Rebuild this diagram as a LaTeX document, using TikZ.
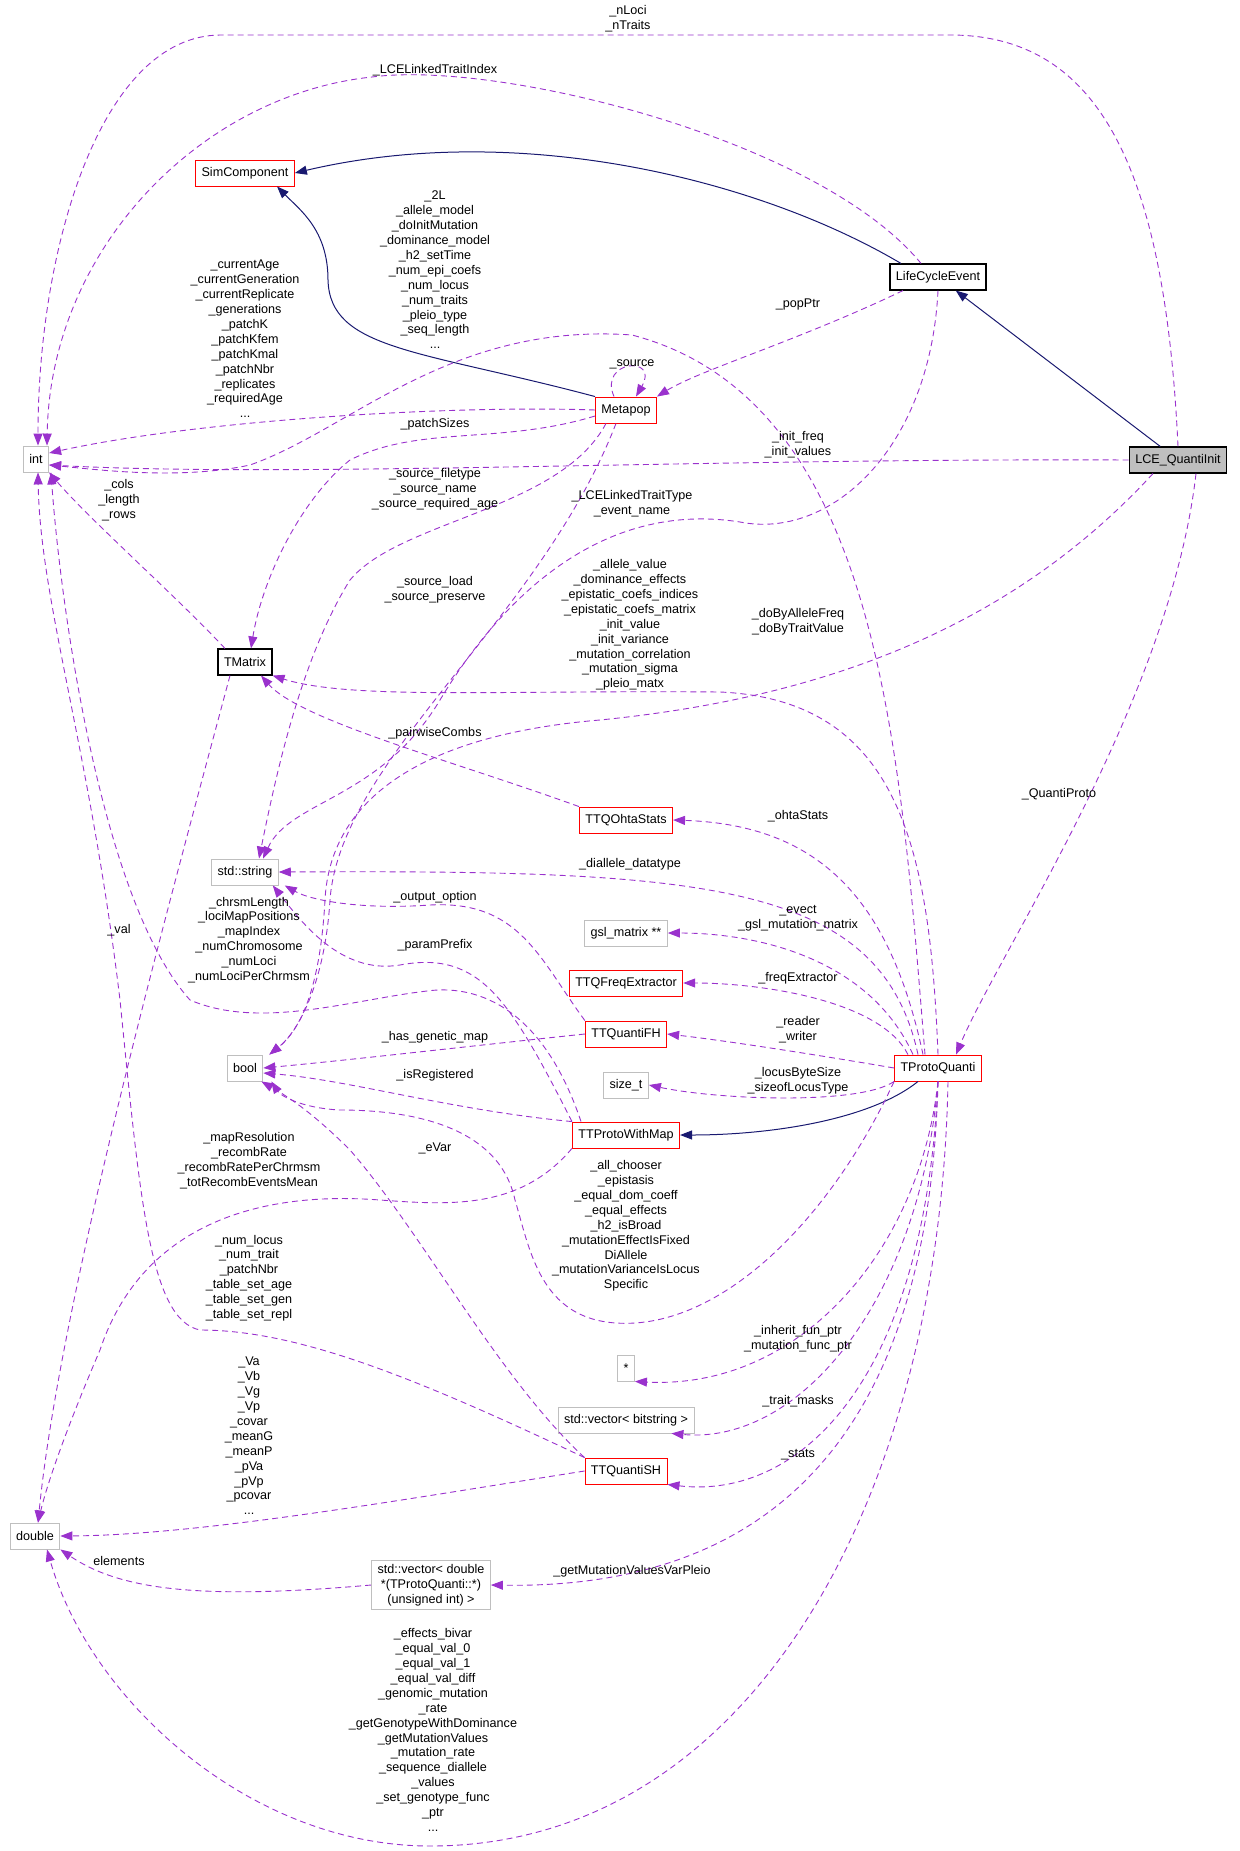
\documentclass[tikz,border=0pt]{standalone}
\usepackage{fontspec}
\setmainfont{Liberation Sans}
\usetikzlibrary{arrows.meta}
\definecolor{relcol}{HTML}{9A32CD}
\definecolor{inhcol}{HTML}{191970}
\definecolor{boxgray}{HTML}{BFBFBF}
\begin{document}
\begin{tikzpicture}[x=1pt,y=-1pt,
  every node/.style={font=\fontsize{12.6}{14.9}\selectfont},
  cls/.style={draw=red,line width=0.9pt,minimum height=26pt,inner xsep=6pt,fill=white},
  cb/.style={draw=black,line width=1.1pt,minimum height=26pt,inner xsep=6pt,fill=white},
  prim/.style={draw=boxgray,line width=0.9pt,minimum height=26pt,inner xsep=6pt,fill=white},
  lbl/.style={align=center,inner sep=0pt},
  rel/.style={draw=relcol,dashed,dash pattern=on 6pt off 4pt,line width=0.9pt,-{Triangle[length=12pt,width=9pt]}},
  inherit/.style={draw=inhcol,line width=1pt,-{Triangle[length=12pt,width=9pt]}}]
\useasboundingbox (0,0) rectangle (1239,1851);

% classes
\node[cls] (simcomp) at (245,173) {SimComponent};
\node[cb] (lifecycle) at (938,277) {LifeCycleEvent};
\node[cls] (metapop) at (626,410) {Metapop};
\node[prim] (int) at (36,459) {int};
\node[cb,fill=boxgray] (lcequanti) at (1178,460) {LCE\_QuantiInit};
\node[cb] (tmatrix) at (245,662) {TMatrix};
\node[cls] (ohta) at (626,820) {TTQOhtaStats};
\node[prim] (string) at (245,872) {std::string};
\node[prim] (gsl) at (626,933) {gsl\_matrix **};
\node[cls] (freqext) at (626,983) {TTQFreqExtractor};
\node[cls] (fh) at (626,1034) {TTQuantiFH};
\node[prim] (bool) at (245,1068) {bool};
\node[cls] (tproto) at (938,1068) {TProtoQuanti};
\node[prim] (sizet) at (626,1085) {size\_t};
\node[cls] (pwm) at (626,1135) {TTProtoWithMap};
\node[prim] (star) at (626,1368) {*};
\node[prim] (vecbits) at (626,1420) {std::vector\textless{} bitstring \textgreater{}};
\node[cls] (sh) at (626,1471) {TTQuantiSH};
\node[prim] (double) at (35,1536) {double};
\node[prim,align=center,inner ysep=4pt] (vecdbl) at (431,1585) {std::vector\textless{} double\\*(TProtoQuanti::*)\\(unsigned int) \textgreater{}};

% inheritance
\draw[inherit] (lcequanti) -- (lifecycle);
\draw[inherit] ([xshift=-37pt]lifecycle.north) .. controls (760,180) and (520,120) .. (simcomp.east);
\draw[inherit] (metapop.north west) .. controls (420,350) and (330,350) .. (328,280) .. controls (328,230) and (300,210) .. ([xshift=32pt]simcomp.south);
\draw[inherit] ([xshift=-20pt]tproto.south) .. controls (870,1120) and (770,1135) .. (pwm.east);

% members
\draw[rel] (lcequanti.north) .. controls (1165,170) and (1100,35) .. (950,35) -- (221,35) .. controls (100,35) and (38,250) .. ([xshift=2pt]int.north);
\draw[rel] ([xshift=-17pt]lifecycle.north) .. controls (820,140) and (500,60) .. (372,77) .. controls (200,95) and (50,250) .. ([xshift=11pt]int.north);
\draw[rel] ([xshift=-35pt]lifecycle.south) .. controls (800,340) and (700,370) .. (metapop.north east);
\draw[rel] ([xshift=-12pt]metapop.north) .. controls (598,360) and (660,355) .. ([xshift=10pt]metapop.north);
\draw[rel] (metapop.west) .. controls (450,405) and (200,420) .. ([yshift=6pt]int.east);
\draw[rel] ([yshift=-6pt]metapop.west) .. controls (500,445) and (420,425) .. (350,460) .. controls (300,500) and (262,580) .. ([xshift=6pt]tmatrix.north);
\draw[rel] (lcequanti.west) .. controls (700,458) and (300,478) .. ([yshift=-6pt]int.east);
\draw[rel] ([xshift=-13pt]tproto.north) .. controls (900,750) and (880,400) .. (632,335) .. controls (450,322) and (350,430) .. (250,465) .. controls (180,480) and (100,470) .. ([yshift=-6pt]int.east);
\draw[rel] ([xshift=-20pt]metapop.south) .. controls (560,510) and (400,520) .. (350,580) .. controls (300,660) and (275,780) .. ([xshift=14pt]string.north);
\draw[rel] (lifecycle.south) .. controls (930,450) and (830,540) .. (740,522) .. controls (600,500) and (500,600) .. (440,700) .. controls (380,800) and (290,800) .. ([xshift=18pt]string.north);
\draw[rel] ([xshift=-10pt]metapop.south) .. controls (540,620) and (340,760) .. (330,900) .. controls (325,980) and (300,1030) .. ([xshift=6pt]bool.north east);
\draw[rel] ([xshift=-25pt]lcequanti.south) .. controls (1000,640) and (800,700) .. (600,720) .. controls (420,735) and (330,800) .. (325,900) .. controls (320,990) and (300,1030) .. ([xshift=6pt]bool.north east);
\draw[rel] (tproto.north) .. controls (930,850) and (900,700) .. (720,692) .. controls (500,690) and (350,700) .. (tmatrix.south east);
\draw[rel] (ohta.north west) .. controls (450,760) and (300,720) .. ([xshift=16pt]tmatrix.south);
\draw[rel] ([xshift=18pt]lcequanti.south) .. controls (1170,700) and (1000,950) .. ([xshift=18pt]tproto.north);
\draw[rel] ([xshift=-15pt]tproto.north) .. controls (890,900) and (820,825) .. (ohta.east);
\draw[rel] ([xshift=-20pt]tproto.north) .. controls (880,880) and (700,870) .. (string.east);
\draw[rel] ([xshift=-25pt]tproto.north) .. controls (870,960) and (760,933) .. (gsl.east);
\draw[rel] ([xshift=-30pt]tproto.north) .. controls (880,1000) and (760,983) .. (freqext.east);
\draw[rel] (tproto.west) .. controls (800,1052) and (720,1040) .. (fh.east);
\draw[rel] (tproto.south west) .. controls (860,1105) and (720,1100) .. (sizet.east);
\draw[rel] (fh.north west) .. controls (540,960) and (520,900) .. (430,905) .. controls (360,910) and (310,900) .. ([xshift=6pt]string.south east);
\draw[rel] (pwm.north west) .. controls (510,1000) and (480,950) .. (400,965) .. controls (340,975) and (300,920) .. ([xshift=-6pt]string.south east);
\draw[rel] ([xshift=-45pt]pwm.north) .. controls (540,1000) and (470,985) .. (427,991) .. controls (350,1000) and (260,1030) .. (190,1000) .. controls (100,900) and (60,600) .. ([xshift=15pt]int.south);
\draw[rel] (fh.west) .. controls (480,1045) and (350,1060) .. (bool.east);
\draw[rel] (pwm.north west) .. controls (450,1110) and (350,1080) .. ([yshift=-5pt]bool.east);
\draw[rel] (tproto.south west) .. controls (830,1220) and (720,1330) .. (616,1323) .. controls (540,1318) and (530,1250) .. (515,1200) .. controls (500,1130) and (420,1110) .. (340,1110) .. controls (300,1108) and (280,1095) .. ([xshift=8pt]bool.south east);
\draw[rel] (sh.north west) .. controls (500,1380) and (420,1230) .. (350,1150) .. controls (310,1110) and (285,1095) .. ([xshift=-2pt]bool.south east);
\draw[rel] (pwm.south west) .. controls (520,1210) and (450,1205) .. (380,1200) .. controls (250,1190) and (140,1230) .. (100,1350) .. controls (70,1420) and (48,1480) .. ([xshift=3pt]double.north);
\draw[rel] (sh.north west) .. controls (420,1380) and (300,1330) .. (200,1330) .. controls (150,1320) and (140,1200) .. (120,1000) .. controls (90,750) and (40,600) .. ([xshift=2pt]int.south);
\draw[rel] ([xshift=-20pt]tmatrix.north) .. controls (180,600) and (90,520) .. (int.south east);
\draw[rel] ([xshift=-15pt]tmatrix.south) .. controls (170,900) and (60,1300) .. ([xshift=3pt]double.north);
\draw[rel] (sh.west) .. controls (400,1500) and (200,1535) .. (double.east);
\draw[rel] (vecdbl.west) .. controls (200,1600) and (120,1590) .. (double.south east);
\draw[rel] (tproto.south) .. controls (920,1250) and (800,1390) .. (star.south east);
\draw[rel] (tproto.south) .. controls (920,1300) and (800,1445) .. ([xshift=-23pt]vecbits.south east);
\draw[rel] (tproto.south) .. controls (925,1380) and (800,1500) .. (sh.south east);
\draw[rel] (tproto.south) .. controls (930,1400) and (800,1590) .. (vecdbl.east);
\draw[rel] ([xshift=10pt]tproto.south) .. controls (940,1500) and (750,1846) .. (430,1846) .. controls (250,1846) and (90,1700) .. ([xshift=12pt]double.south);

% labels
\node[lbl] (lnloci) at (628,19) {\_nLoci\\\_nTraits};
\node[lbl] (llinkidx) at (435,70) {\_LCELinkedTraitIndex};
\node[lbl] (l2l) at (435,270) {\_2L\\\_allele\_model\\\_doInitMutation\\\_dominance\_model\\\_h2\_setTime\\\_num\_epi\_coefs\\\_num\_locus\\\_num\_traits\\\_pleio\_type\\\_seq\_length\\...};
\node[lbl] (lcurage) at (245,339) {\_currentAge\\\_currentGeneration\\\_currentReplicate\\\_generations\\\_patchK\\\_patchKfem\\\_patchKmal\\\_patchNbr\\\_replicates\\\_requiredAge\\...};
\node[lbl] (lpopptr) at (798,304) {\_popPtr};
\node[lbl] (lsource) at (632,364) {\_source};
\node[lbl] (lpatchsizes) at (435,424) {\_patchSizes};
\node[lbl] (linitfreq) at (798,445) {\_init\_freq\\\_init\_values};
\node[lbl] (lsrcfile) at (435,489) {\_source\_filetype\\\_source\_name\\\_source\_required\_age};
\node[lbl] (lcols) at (119,500) {\_cols\\\_length\\\_rows};
\node[lbl] (llinktype) at (632,504) {\_LCELinkedTraitType\\\_event\_name};
\node[lbl] (lsrcload) at (435,590) {\_source\_load\\\_source\_preserve};
\node[lbl] (lallele) at (630,625) {\_allele\_value\\\_dominance\_effects\\\_epistatic\_coefs\_indices\\\_epistatic\_coefs\_matrix\\\_init\_value\\\_init\_variance\\\_mutation\_correlation\\\_mutation\_sigma\\\_pleio\_matx};
\node[lbl] (ldoby) at (798,622) {\_doByAlleleFreq\\\_doByTraitValue};
\node[lbl] (lpairwise) at (435,733) {\_pairwiseCombs};
\node[lbl] (lquantiproto) at (1059,794) {\_QuantiProto};
\node[lbl] (lohta) at (798,816) {\_ohtaStats};
\node[lbl] (ldiallele) at (630,864) {\_diallele\_datatype};
\node[lbl] (lval) at (119,930) {\_val};
\node[lbl] (loutput) at (435,897) {\_output\_option};
\node[lbl] (levect) at (798,918) {\_evect\\\_gsl\_mutation\_matrix};
\node[lbl] (lchrsm) at (249,940) {\_chrsmLength\\\_lociMapPositions\\\_mapIndex\\\_numChromosome\\\_numLoci\\\_numLociPerChrmsm};
\node[lbl] (lparam) at (435,945) {\_paramPrefix};
\node[lbl] (lfreqext) at (798,978) {\_freqExtractor};
\node[lbl] (lreader) at (798,1030) {\_reader\\\_writer};
\node[lbl] (lgenmap) at (435,1037) {\_has\_genetic\_map};
\node[lbl] (lisreg) at (435,1075) {\_isRegistered};
\node[lbl] (llocus) at (798,1081) {\_locusByteSize\\\_sizeofLocusType};
\node[lbl] (lmapres) at (249,1161) {\_mapResolution\\\_recombRate\\\_recombRatePerChrmsm\\\_totRecombEventsMean};
\node[lbl] (levar) at (435,1148) {\_eVar};
\node[lbl] (lchooser) at (626,1226) {\_all\_chooser\\\_epistasis\\\_equal\_dom\_coeff\\\_equal\_effects\\\_h2\_isBroad\\\_mutationEffectIsFixed\\DiAllele\\\_mutationVarianceIsLocus\\Specific};
\node[lbl] (lnumlocus) at (249,1278) {\_num\_locus\\\_num\_trait\\\_patchNbr\\\_table\_set\_age\\\_table\_set\_gen\\\_table\_set\_repl};
\node[lbl] (linherit) at (798,1339) {\_inherit\_fun\_ptr\\\_mutation\_func\_ptr};
\node[lbl] (ltrait) at (798,1401) {\_trait\_masks};
\node[lbl] (lstats) at (798,1455) {\_stats};
\node[lbl] (lva) at (249,1436) {\_Va\\\_Vb\\\_Vg\\\_Vp\\\_covar\\\_meanG\\\_meanP\\\_pVa\\\_pVp\\\_pcovar\\...};
\node[lbl] (lelements) at (119,1561) {elements};
\node[lbl] (lgetmut) at (632,1571) {\_getMutationValuesVarPleio};
\node[lbl] (leffects) at (433,1730) {\_effects\_bivar\\\_equal\_val\_0\\\_equal\_val\_1\\\_equal\_val\_diff\\\_genomic\_mutation\\\_rate\\\_getGenotypeWithDominance\\\_getMutationValues\\\_mutation\_rate\\\_sequence\_diallele\\\_values\\\_set\_genotype\_func\\\_ptr\\...};
\end{tikzpicture}
\end{document}
